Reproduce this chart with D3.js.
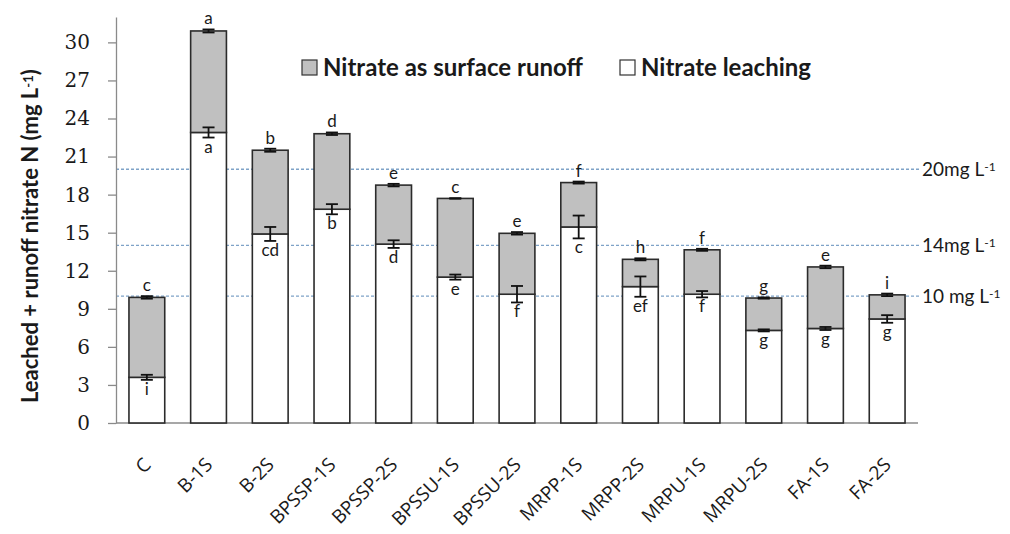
<!DOCTYPE html>
<html>
<head>
<meta charset="utf-8">
<script src="https://cdn.jsdelivr.net/npm/d3@7"></script>
<style>
  body { margin: 0; background: #fff; }
  #chart { width: 1010px; height: 534px; }
  .xlab { transform: rotate(-45deg); transform-origin: 0 0; }
</style>
</head>
<body>
<div id="chart"></div>
<script>
// values
const categories = ['C', 'B-1S', 'B-2S', 'BPSSP-1S', 'BPSSP-2S', 'BPSSU-1S', 'BPSSU-2S',
  'MRPP-1S', 'MRPP-2S', 'MRPU-1S', 'MRPU-2S', 'FA-1S', 'FA-2S'];
const leaching = [3.6, 22.9, 14.9, 16.85, 14.1, 11.5, 10.15, 15.45, 10.75, 10.15, 7.3, 7.45, 8.2];
const runoff = [6.3, 8.0, 6.6, 5.95, 4.65, 6.2, 4.8, 3.5, 2.15, 3.5, 2.55, 4.85, 1.9];
const leachingErr = [0.2, 0.4, 0.55, 0.4, 0.3, 0.2, 0.65, 0.9, 0.8, 0.25, 0.08, 0.12, 0.3];
const totalErr = [0.1, 0.12, 0.12, 0.1, 0.1, 0.02, 0.1, 0.08, 0.08, 0.08, 0.05, 0.1, 0.1];
const topLetters = ['c', 'a', 'b', 'd', 'e', 'c', 'e', 'f', 'h', 'f', 'g', 'e', 'i'];
const bottomLetters = ['i', 'a', 'cd', 'b', 'd', 'e', 'f', 'c', 'ef', 'f', 'g', 'g', 'g'];
const yTicks = [0, 3, 6, 9, 12, 15, 18, 21, 24, 27, 30];
const refValues = [20, 14, 10];
const refLabels = ['20mg L', '14mg L', '10 mg L'];
const seriesNames = ['Nitrate as surface runoff', 'Nitrate leaching'];

class Chart {

  constructor(opts) {
    this.chart = opts.chart;
    this.data = categories.map((c, i) => ({
      name: c,
      leach: leaching[i],
      run: runoff[i],
      total: leaching[i] + runoff[i],
      leachErr: leachingErr[i],
      totalErr: totalErr[i],
      top: topLetters[i],
      bottom: bottomLetters[i]
    }));
    this.draw();
  }

  draw() {
    this.width = 1010;
    this.height = 534;
    this.margin = { top: 17, right: 92, bottom: 111, left: 116 };

    const svg = d3.select(this.chart).append('svg')
      .attr('width', this.width)
      .attr('height', this.height)
      .style('font-family', 'Lato, "Open Sans", sans-serif');

    this.svg = svg;
    this.createScales();
    this.drawRefLines();
    this.drawAxes();
    this.drawBars();
    this.drawLegend();
  }

  createScales() {
    this.x = d3.scaleBand()
      .domain(categories)
      .range([this.margin.left, this.width - this.margin.right])
      .paddingInner(0.42)
      .paddingOuter(0.21);

    this.y = d3.scaleLinear()
      .domain([0, 32])
      .range([this.height - this.margin.bottom, this.margin.top]);
  }

  drawAxes() {
    const svg = this.svg;
    const x0 = this.margin.left;
    const x1 = this.width - this.margin.right;

    const yAxis = svg.append('g')
      .attr('transform', `translate(${x0},0)`)
      .call(d3.axisLeft(this.y).tickValues(yTicks).tickSize(8).tickPadding(18).tickSizeOuter(0));
    yAxis.select('.domain').attr('stroke', '#8a8a8a').attr('stroke-width', 1.3);
    yAxis.selectAll('.tick line').attr('stroke', '#8a8a8a').attr('stroke-width', 1.3);
    yAxis.selectAll('.tick text')
      .attr('fill', '#1a1a1a')
      .style('font-family', '"DejaVu Serif", serif')
      .style('font-size', '20px');

    // x axis baseline
    svg.append('line')
      .attr('x1', x0).attr('x2', x1)
      .attr('y1', this.y(0)).attr('y2', this.y(0))
      .attr('stroke', '#8a8a8a').attr('stroke-width', 1.5);

    // category labels, turned 45 degrees with css
    const lab = svg.append('g').selectAll('g')
      .data(categories)
      .join('g')
        .attr('transform', d => `translate(${this.x(d) + this.x.bandwidth() / 2 + 5},466)`);
    lab.append('text')
      .attr('class', 'xlab')
      .attr('x', 0).attr('y', 0)
      .attr('text-anchor', 'end')
      .attr('fill', '#1a1a1a')
      .style('font-family', '"Open Sans", sans-serif')
      .style('font-size', '19px')
      .text(d => d);

    // y title
    const title = svg.append('text')
      .attr('transform', 'translate(38,403) rotate(-90)')
      .attr('text-anchor', 'start')
      .attr('fill', '#1a1a1a')
      .style('font-weight', 'bold')
      .style('font-size', '22px');
    title.append('tspan').text('Leached + runoff nitrate N (mg L');
    title.append('tspan').attr('baseline-shift', '35%').style('font-size', '13px').text('-1');
    title.append('tspan').text(')');
  }

  drawRefLines() {
    const g = this.svg.append('g');
    const x0 = this.margin.left;
    const x1 = 920;
    refValues.forEach((v, i) => {
      g.append('line')
        .attr('x1', x0).attr('x2', x1)
        .attr('y1', this.y(v)).attr('y2', this.y(v))
        .attr('stroke', '#7fa3c8')
        .attr('stroke-width', 1.3)
        .attr('stroke-dasharray', '3,2');
      const t = g.append('text')
        .attr('x', x1 + 2)
        .attr('y', this.y(v) + 7)
        .attr('fill', '#1a1a1a')
        .style('font-size', '19px')
        .text(refLabels[i]);
      t.append('tspan').attr('baseline-shift', '45%').style('font-size', '12px').text('-1');
    });
  }

  drawBars() {
    const g = this.svg.append('g');
    const bw = this.x.bandwidth();
    const cap = 6;

    const bars = g.selectAll('.bar')
      .data(this.data)
      .join('g')
        .attr('class', 'bar')
        .attr('transform', d => `translate(${this.x(d.name)},0)`);

    // leaching (bottom, white)
    bars.append('rect')
      .attr('x', 0).attr('width', bw)
      .attr('y', d => this.y(d.leach))
      .attr('height', d => this.y(0) - this.y(d.leach))
      .attr('fill', '#ffffff')
      .attr('stroke', '#2b2b2b').attr('stroke-width', 1.6);

    // runoff (stacked, gray)
    bars.append('rect')
      .attr('x', 0).attr('width', bw)
      .attr('y', d => this.y(d.total))
      .attr('height', d => this.y(d.leach) - this.y(d.total))
      .attr('fill', '#c0c0c0')
      .attr('stroke', '#2b2b2b').attr('stroke-width', 1.6);

    // error bars
    const errBar = (sel, val, err) => {
      const e = sel.append('g').attr('stroke', '#111').attr('stroke-width', 1.8);
      e.append('line')
        .attr('x1', bw / 2).attr('x2', bw / 2)
        .attr('y1', d => this.y(val(d) + err(d))).attr('y2', d => this.y(val(d) - err(d)));
      e.append('line')
        .attr('x1', bw / 2 - cap).attr('x2', bw / 2 + cap)
        .attr('y1', d => this.y(val(d) + err(d))).attr('y2', d => this.y(val(d) + err(d)));
      e.append('line')
        .attr('x1', bw / 2 - cap).attr('x2', bw / 2 + cap)
        .attr('y1', d => this.y(val(d) - err(d))).attr('y2', d => this.y(val(d) - err(d)));
    };
    errBar(bars, d => d.leach, d => d.leachErr);
    errBar(bars, d => d.total, d => d.totalErr);

    // significance letters
    bars.append('text')
      .attr('x', bw / 2)
      .attr('y', d => this.y(d.total + d.totalErr) - 5)
      .attr('text-anchor', 'middle')
      .attr('fill', '#1a1a1a')
      .style('font-size', '17px')
      .text(d => d.top);

    bars.append('text')
      .attr('x', bw / 2)
      .attr('y', d => this.y(d.leach - d.leachErr) + 15)
      .attr('text-anchor', 'middle')
      .attr('fill', '#1a1a1a')
      .style('font-size', '17px')
      .text(d => d.bottom);
  }

  drawLegend() {
    const items = [
      { name: seriesNames[0], fill: '#c0c0c0', x: 302 },
      { name: seriesNames[1], fill: '#ffffff', x: 620 }
    ];
    const lg = this.svg.append('g').selectAll('g')
      .data(items)
      .join('g')
        .attr('transform', d => `translate(${d.x},60)`);
    lg.append('rect')
      .attr('width', 15).attr('height', 15)
      .attr('fill', d => d.fill)
      .attr('stroke', '#333').attr('stroke-width', 1.2);
    lg.append('text')
      .attr('x', 21).attr('y', 16)
      .attr('fill', '#1a1a1a')
      .style('font-weight', 'bold')
      .style('font-size', '24px')
      .text(d => d.name);
  }
}

new Chart({ chart: document.getElementById('chart') });
</script>
</body>
</html>
